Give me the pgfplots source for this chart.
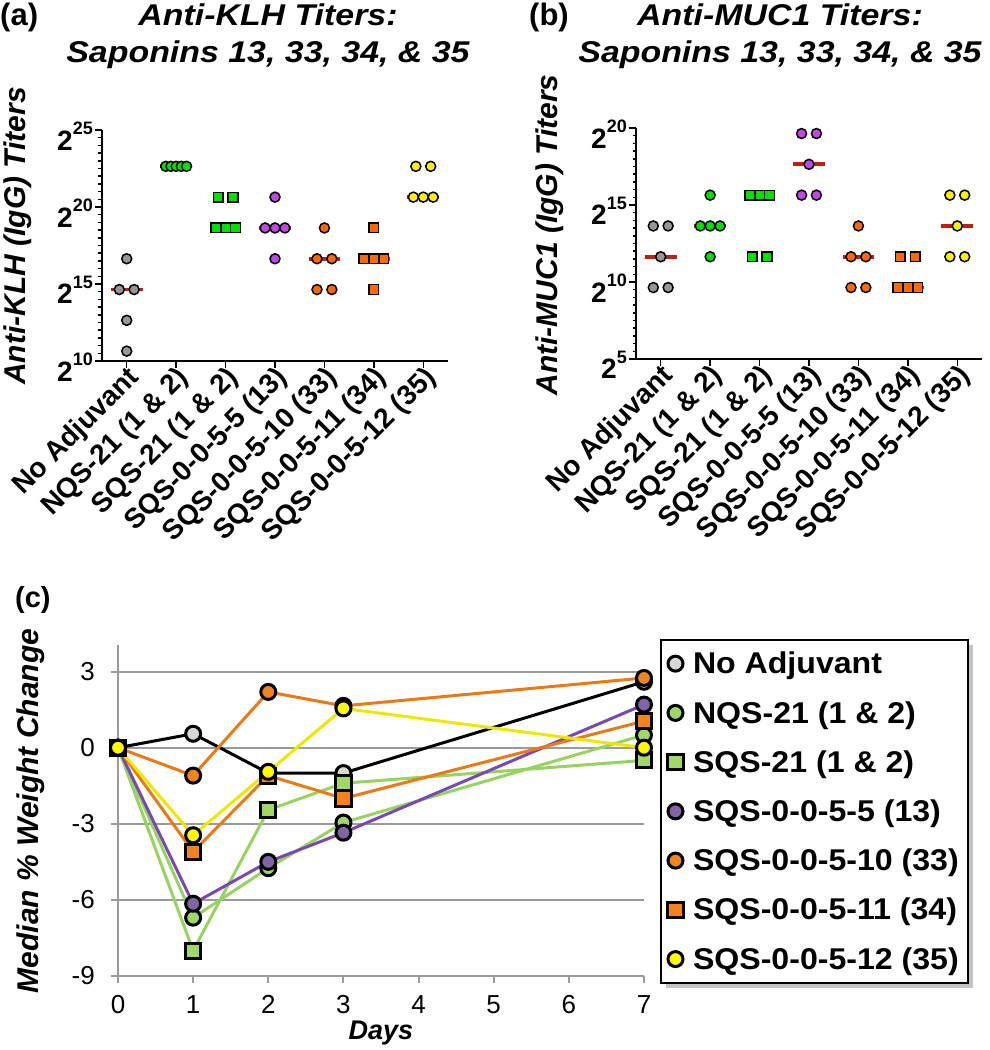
\documentclass[border=0pt]{standalone}
\usepackage{fontspec}
\setmainfont{Liberation Sans}
\usepackage{graphicx}
\usepackage{pgfplots}
\pgfplotsset{compat=1.18}
\usetikzlibrary{shadows}

\definecolor{mgray}{RGB}{150,150,150}
\definecolor{mgreen}{RGB}{0,225,0}
\definecolor{mpurple}{RGB}{195,70,230}
\definecolor{morange}{RGB}{255,105,0}
\definecolor{myellow}{RGB}{255,240,0}
\definecolor{medred}{RGB}{195,30,20}
\definecolor{cgray}{RGB}{215,215,215}
\definecolor{cgreen}{RGB}{160,215,105}
\definecolor{cgreenline}{RGB}{150,212,95}
\definecolor{cpurple}{RGB}{128,100,165}
\definecolor{cpurpleline}{RGB}{122,72,180}
\definecolor{corange}{RGB}{242,132,32}
\definecolor{coranline}{RGB}{235,122,20}
\definecolor{cyellow}{RGB}{255,250,0}
\definecolor{cyellowline}{RGB}{238,232,0}
\definecolor{gridgray}{RGB}{155,155,155}

\newcommand{\fs}[1]{\fontsize{#1}{#1}\selectfont}
\newcommand{\pw}[1]{2\raisebox{0.55em}{\fs{18}\bfseries #1}}
\newcommand{\legtxt}[1]{\scalebox{1.07}[1]{#1}}

\pgfplotsset{
  titer/.style={
    scale only axis, width=346pt, height=231pt,
    xmin=-0.5, xmax=6.5,
    axis x line=bottom, axis y line=left,
    axis line style={-, line width=2pt, black},
    xtick={0,1,2,3,4,5,6},
    xticklabels={No Adjuvant, NQS-21 (1 \& 2), SQS-21 (1 \& 2), SQS-0-0-5-5 (13), SQS-0-0-5-10 (33), SQS-0-0-5-11 (34), SQS-0-0-5-12 (35)},
    xticklabel style={rotate=45, anchor=east, font=\fs{28}\bfseries, inner sep=0pt, yshift=-10pt, xshift=2pt},
    yticklabel style={anchor=north east, font=\fs{28}\bfseries, inner sep=0pt, yshift=8pt, xshift=-2pt},
    tick align=outside,
    major tick length=7pt, minor tick length=3.5pt,
    tick style={black, line width=1.5pt},
    minor y tick num=9,
    clip=false,
  },
  dotc/.style={only marks, mark=*, mark size=5pt, mark options={draw=black, line width=1.5pt, fill=#1}},
  dots/.style={only marks, mark=square*, mark size=4.8pt, mark options={draw=black, line width=1.5pt, fill=#1}},
  med/.style={medred, line width=3.8pt, no marks},
  wc/.style={line width=3pt, mark=*, mark size=7.5pt, mark options={solid, draw=black, line width=3pt, fill=#1}},
  ws/.style={line width=3pt, mark=square*, mark size=7.6pt, mark options={solid, draw=black, line width=3pt, fill=#1}},
  lc/.style={only marks, mark=*, mark size=7.5pt, mark options={draw=black, line width=3pt, fill=#1}},
  ls/.style={only marks, mark=square*, mark size=7.5pt, mark options={draw=black, line width=3pt, fill=#1}},
}

\begin{document}
\begin{tikzpicture}
\useasboundingbox (0,0) rectangle (989pt,1050pt);

% ---------------- (a) Anti-KLH ----------------
\begin{axis}[titer, at={(102pt,689pt)}, anchor=south west,
  ymin=10, ymax=25, ytick={10,15,20,25},
  yticklabels={\pw{10},\pw{15},\pw{20},\pw{25}}]
\addplot[dotc=mgray] coordinates {(0,16.64) (-0.15,14.64) (0.15,14.64) (0,12.64) (0,10.64)};
\addplot[med] coordinates {(-0.32,14.64) (0.32,14.64)};
\addplot[dotc=mgreen] coordinates {(0.79,22.64) (0.895,22.64) (1,22.64) (1.105,22.64) (1.21,22.64)};
\addplot[med] coordinates {(0.68,22.64) (1.32,22.64)};
\addplot[dots=mgreen] coordinates {(1.85,20.64) (2.15,20.64) (1.8,18.64) (2,18.64) (2.2,18.64)};
\addplot[med] coordinates {(1.68,18.64) (2.32,18.64)};
\addplot[dotc=mpurple] coordinates {(3,20.64) (2.8,18.64) (3,18.64) (3.2,18.64) (3,16.64)};
\addplot[med] coordinates {(2.68,18.64) (3.32,18.64)};
\addplot[dotc=morange] coordinates {(4,18.64) (3.85,16.64) (4.15,16.64) (3.85,14.64) (4.15,14.64)};
\addplot[med] coordinates {(3.68,16.64) (4.32,16.64)};
\addplot[dots=morange] coordinates {(5,18.64) (4.8,16.64) (5,16.64) (5.2,16.64) (5,14.64)};
\addplot[med] coordinates {(4.68,16.64) (5.32,16.64)};
\addplot[dotc=myellow] coordinates {(5.85,22.64) (6.15,22.64) (5.8,20.64) (6,20.64) (6.2,20.64)};
\addplot[med] coordinates {(5.68,20.64) (6.32,20.64)};
\end{axis}

% ---------------- (b) Anti-MUC1 ----------------
\begin{axis}[titer, at={(636pt,691pt)}, anchor=south west,
  ymin=5, ymax=20, ytick={5,10,15,20},
  yticklabels={\pw{5},\pw{10},\pw{15},\pw{20}}]
\addplot[dotc=mgray] coordinates {(-0.15,13.64) (0.15,13.64) (0,11.64) (-0.15,9.64) (0.15,9.64)};
\addplot[med] coordinates {(-0.32,11.64) (0.32,11.64)};
\addplot[dotc=mgreen] coordinates {(1,15.64) (0.8,13.64) (1,13.64) (1.2,13.64) (1,11.64)};
\addplot[med] coordinates {(0.68,13.64) (1.32,13.64)};
\addplot[dots=mgreen] coordinates {(1.8,15.64) (2,15.64) (2.2,15.64) (1.85,11.64) (2.15,11.64)};
\addplot[med] coordinates {(1.68,15.64) (2.32,15.64)};
\addplot[dotc=mpurple] coordinates {(2.85,19.64) (3.15,19.64) (3,17.64) (2.85,15.64) (3.15,15.64)};
\addplot[med] coordinates {(2.68,17.64) (3.32,17.64)};
\addplot[dotc=morange] coordinates {(4,13.64) (3.85,11.64) (4.15,11.64) (3.85,9.64) (4.15,9.64)};
\addplot[med] coordinates {(3.68,11.64) (4.32,11.64)};
\addplot[dots=morange] coordinates {(4.85,11.64) (5.15,11.64) (4.8,9.64) (5,9.64) (5.2,9.64)};
\addplot[med] coordinates {(4.68,9.64) (5.32,9.64)};
\addplot[dotc=myellow] coordinates {(5.85,15.64) (6.15,15.64) (6,13.64) (5.85,11.64) (6.15,11.64)};
\addplot[med] coordinates {(5.68,13.64) (6.32,13.64)};
\end{axis}

% ---------------- (c) weight change ----------------
\begin{axis}[at={(118pt,74pt)}, anchor=south west,
  scale only axis, width=526pt, height=331pt,
  xmin=0, xmax=7, ymin=-9, ymax=4.05,
  axis x line=bottom, axis y line=left,
  axis line style={-, gridgray, line width=2pt},
  xtick={0,1,2,3,4,5,6,7}, xticklabels={0,1,2,3,4,5,6,7},
  ytick={-9,-6,-3,0,3}, yticklabels={-9,-6,-3,0,3},
  ymajorgrids, grid style={gridgray, line width=2pt},
  tick align=outside, major tick length=7pt,
  tick style={gridgray, line width=2pt},
  xticklabel style={font=\fs{26}, anchor=north, inner sep=0pt, yshift=-12pt},
  yticklabel style={font=\fs{26}, anchor=east, inner sep=0pt, xshift=-16pt},
  clip=false,
  legend style={at={(1.0,1.018)}, anchor=north west, xshift=16pt, draw=black, line width=2pt, fill=white,
    font=\fs{30}\bfseries, row sep=22pt, inner xsep=7pt, inner ysep=10pt,
    /tikz/every odd column/.append style={column sep=8pt},
    drop shadow={shadow xshift=5pt, shadow yshift=-5pt, fill=black!45}},
  legend cell align=left,
]
\addplot[black, wc=cgray, forget plot] coordinates {(0,0) (1,0.55) (2,-1.0) (3,-1.0) (7,2.6)};
\addplot[cgreenline, wc=cgreen, forget plot] coordinates {(0,0) (1,-6.7) (2,-4.75) (3,-2.95) (7,0.5)};
\addplot[cgreenline, ws=cgreen, forget plot] coordinates {(0,0) (1,-8.0) (2,-2.45) (3,-1.4) (7,-0.5)};
\addplot[cpurpleline, wc=cpurple, forget plot] coordinates {(0,0) (1,-6.15) (2,-4.5) (3,-3.35) (7,1.7)};
\addplot[coranline, wc=corange, forget plot] coordinates {(0,0) (1,-1.1) (2,2.2) (3,1.65) (7,2.75)};
\addplot[coranline, ws=corange, forget plot] coordinates {(0,0) (1,-4.1) (2,-1.1) (3,-2.0) (7,1.05)};
\addplot[cyellowline, wc=cyellow, forget plot] coordinates {(0,0) (1,-3.45) (2,-0.95) (3,1.55) (7,0.0)};

\addlegendimage{lc=cgray}
\addlegendentry{\legtxt{No Adjuvant}}
\addlegendimage{lc=cgreen}
\addlegendentry{\legtxt{NQS-21 (1 \& 2)}}
\addlegendimage{ls=cgreen}
\addlegendentry{\legtxt{SQS-21 (1 \& 2)}}
\addlegendimage{lc=cpurple}
\addlegendentry{\legtxt{SQS-0-0-5-5 (13)}}
\addlegendimage{lc=corange}
\addlegendentry{\legtxt{SQS-0-0-5-10 (33)}}
\addlegendimage{ls=corange}
\addlegendentry{\legtxt{SQS-0-0-5-11 (34)}}
\addlegendimage{lc=cyellow}
\addlegendentry{\legtxt{SQS-0-0-5-12 (35)}}
\end{axis}

% ---------------- text annotations ----------------
\begin{scope}[x=1pt, y=-1pt, shift={(0pt,1050pt)}]
\node[anchor=base west, inner sep=0pt, font=\fs{31}\bfseries] at (0,25.5) {(a)};
\node[anchor=base, inner sep=0pt, font=\fs{30}\bfseries\itshape] at (268,26) {\scalebox{1.13}[1]{Anti-KLH Titers:}};
\node[anchor=base, inner sep=0pt, font=\fs{30}\bfseries\itshape] at (268,63) {\scalebox{1.13}[1]{Saponins 13, 33, 34, \& 35}};
\node[rotate=90, inner sep=0pt, font=\fs{30}\bfseries\itshape] at (18,236) {Anti-KLH (IgG) Titers};

\node[anchor=base west, inner sep=0pt, font=\fs{31}\bfseries] at (529,25.5) {(b)};
\node[anchor=base, inner sep=0pt, font=\fs{30}\bfseries\itshape] at (780,26) {\scalebox{1.13}[1]{Anti-MUC1 Titers:}};
\node[anchor=base, inner sep=0pt, font=\fs{30}\bfseries\itshape] at (780,63) {\scalebox{1.13}[1]{Saponins 13, 33, 34, \& 35}};
\node[rotate=90, inner sep=0pt, font=\fs{30}\bfseries\itshape] at (550,235) {Anti-MUC1 (IgG) Titers};

\node[anchor=base west, inner sep=0pt, font=\fs{29}\bfseries] at (15,608) {(c)};
\node[rotate=90, inner sep=0pt, font=\fs{30}\bfseries\itshape] at (31,811) {Median \% Weight Change};
\node[anchor=base, inner sep=0pt, font=\fs{27}\bfseries\itshape] at (381,1040) {Days};
\end{scope}
\end{tikzpicture}
\end{document}
